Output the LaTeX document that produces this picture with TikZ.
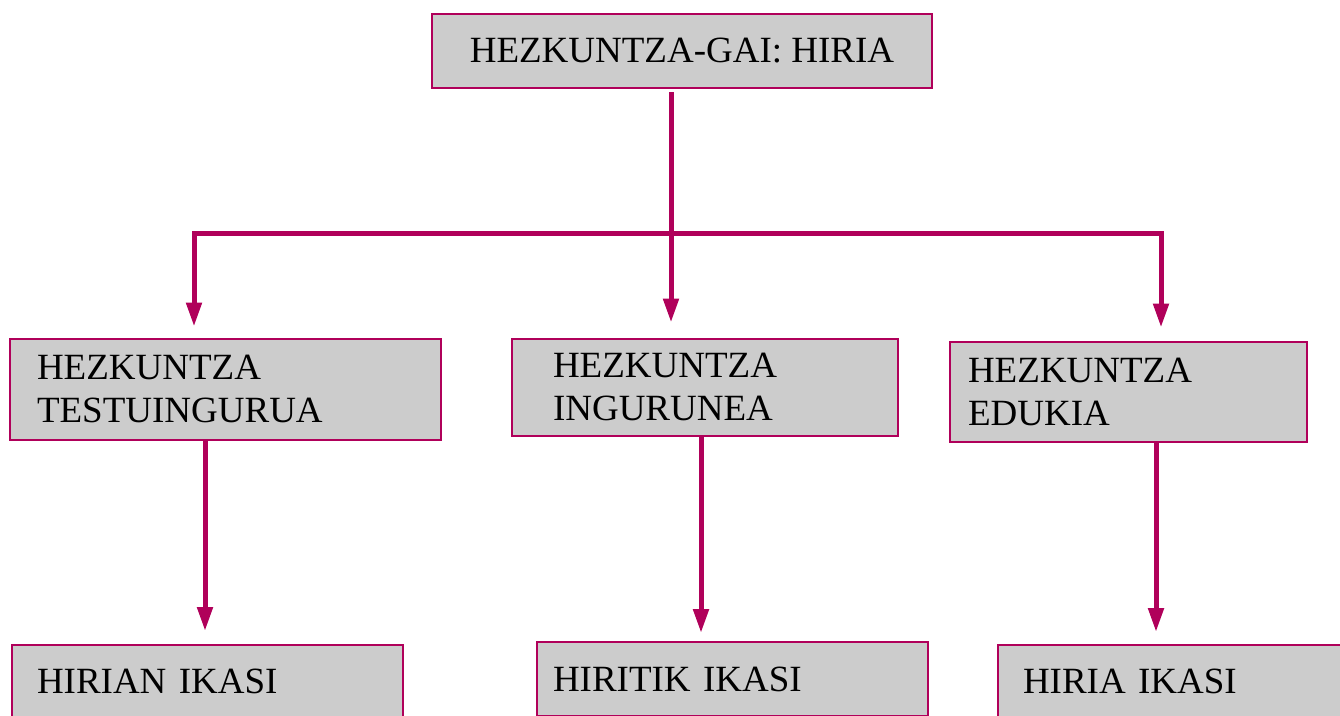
\documentclass[tikz,border=0pt]{standalone}
\usepackage{fontspec}
\setmainfont{Liberation Serif}
\usetikzlibrary{arrows.meta}
\definecolor{mag}{RGB}{176,0,90}
\definecolor{boxgray}{RGB}{204,204,204}
\begin{document}
\begin{tikzpicture}[x=1pt,y=-1pt,
  box/.style={draw=mag, line width=2pt, fill=boxgray, rectangle, inner ysep=0pt,
    font=\fontsize{37}{43}\selectfont, text=black},
  lbox/.style args={#1/#2/#3}{box, minimum width=#1, minimum height=#2,
    inner xsep=#3, text width=#1-2*#3, align=left},
  conn/.style={draw=mag, line width=5pt, -{Triangle[width=15pt,length=24pt]}}]
\useasboundingbox (0,0) rectangle (1340,715);
\fill[white] (0,0) rectangle (1340,715);
% boxes
\node[box, minimum width=500pt, minimum height=74pt, inner xsep=0pt] (t) at (682,51) {HEZKUNTZA-GAI: HIRIA};
\node[lbox=431pt/101pt/27pt] (l1) at (225.5,389) {HEZKUNTZA\\TESTUINGURUA};
\node[lbox=386pt/97pt/41pt] (m1) at (705,387) {HEZKUNTZA\\INGURUNEA};
\node[lbox=357pt/100pt/18pt] (r1) at (1128.5,391.5) {HEZKUNTZA\\EDUKIA};
\node[lbox=391pt/72pt/25pt] (l2) at (207.5,681) {HIRIAN IKASI};
\node[lbox=391pt/74pt/16pt] (m2) at (732.5,679) {HIRITIK IKASI};
\node[lbox=344pt/72pt/25pt] (r2) at (1170,681) {HIRIA IKASI};
% junction coordinates
\coordinate (j) at (671,233);
\coordinate (jl) at (194,233);
\coordinate (jr) at (1161,233);
\coordinate (xl) at (205,0);
\coordinate (xm) at (701,0);
\coordinate (xr) at (1156,0);
% connectors
\draw[conn, shorten <=3pt, shorten >=15pt] (t.south -| j) -- (m1.north -| j);
\draw[conn, shorten >=11pt] (j) -| (l1.north -| jl);
\draw[conn, shorten >=13pt] (j) -| (r1.north -| jr);
\draw[conn, shorten >=13pt] (l1.south -| xl) -- (l2.north -| xl);
\draw[conn, shorten >=8pt] (m1.south -| xm) -- (m2.north -| xm);
\draw[conn, shorten >=12pt] (r1.south -| xr) -- (r2.north -| xr);
\end{tikzpicture}
\end{document}
